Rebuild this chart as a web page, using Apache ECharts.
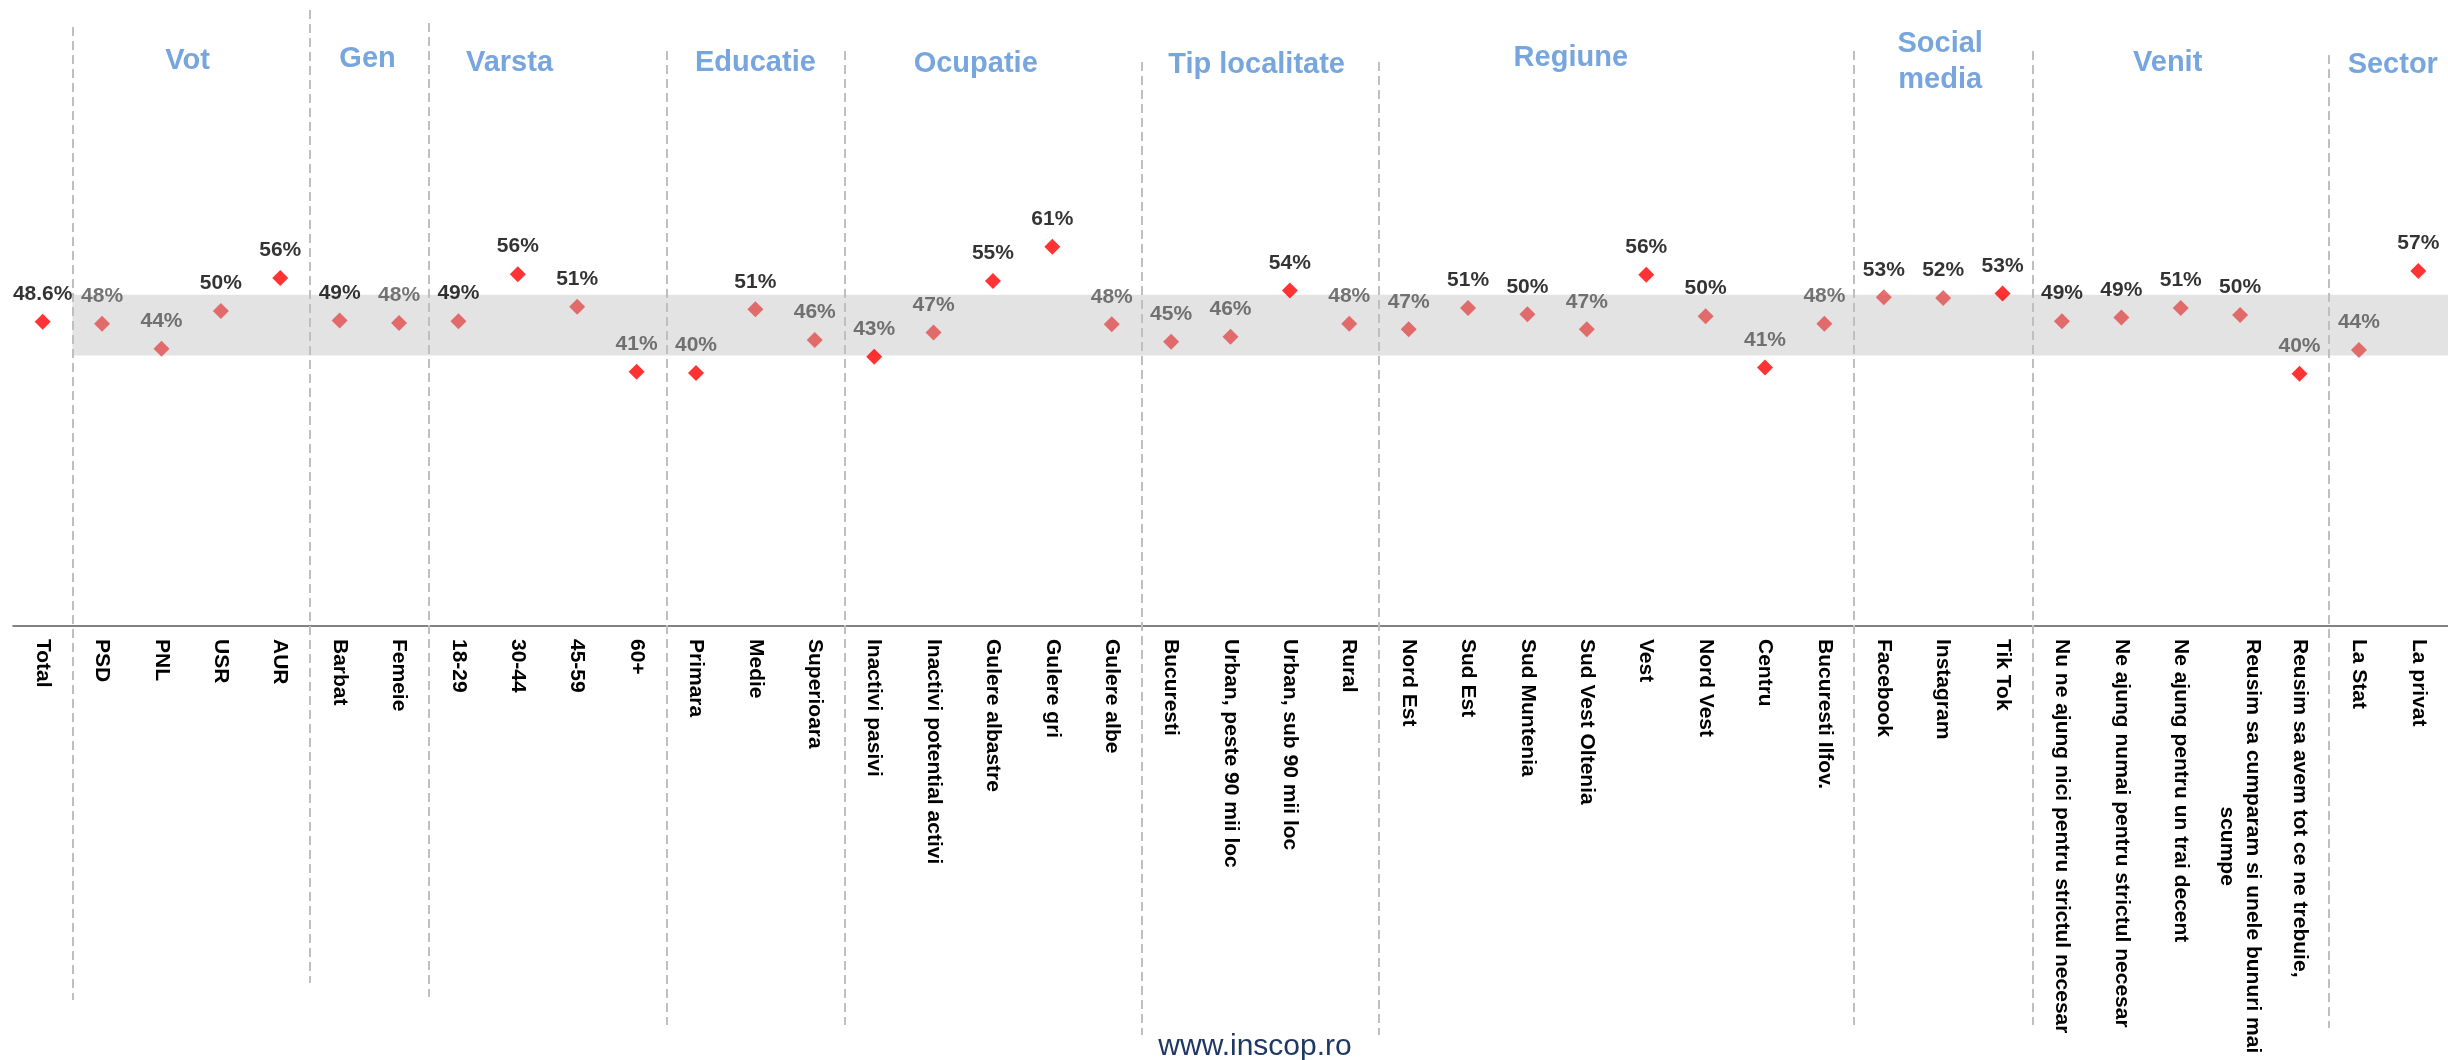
<!DOCTYPE html>
<html>
<head>
<meta charset="utf-8">
<script src="https://cdn.jsdelivr.net/npm/echarts@6/dist/echarts.min.js"></script>
<style>
  html, body { margin: 0; padding: 0; background: #fff; }
  #chart { width: 2448px; height: 1060px; }
</style>
</head>
<body>
<div id="chart"></div>
<script>
// date
const groupNames = ['Vot', 'Gen', 'Varsta', 'Educatie', 'Ocupatie', 'Tip localitate', 'Regiune', 'Social\nmedia', 'Venit', 'Sector']
const groupSizes = [4, 2, 4, 3, 5, 4, 8, 3, 5, 2]
const categories = [
  'Total',
  'PSD', 'PNL', 'USR', 'AUR',
  'Barbat', 'Femeie',
  '18-29', '30-44', '45-59', '60+',
  'Primara', 'Medie', 'Superioara',
  'Inactivi pasivi', 'Inactivi potential activi', 'Gulere albastre', 'Gulere gri', 'Gulere albe',
  'Bucuresti', 'Urban, peste 90 mii loc', 'Urban, sub 90 mii loc', 'Rural',
  'Nord Est', 'Sud Est', 'Sud Muntenia', 'Sud Vest Oltenia', 'Vest', 'Nord Vest', 'Centru', 'Bucuresti Ilfov.',
  'Facebook', 'Instagram', 'Tik Tok',
  'Nu ne ajung nici pentru strictul necesar', 'Ne ajung numai pentru strictul necesar', 'Ne ajung pentru un trai decent',
  'Reusim sa cumparam si unele bunuri mai scumpe', 'Reusim sa avem tot ce ne trebuie,',
  'La Stat', 'La privat'
]
const values = [
  48.6,
  48.3, 44.3, 50.3, 55.6,
  48.8, 48.4,
  48.7, 56.2, 51.0, 40.6,
  40.4, 50.6, 45.7,
  43.0, 46.9, 55.1, 60.6, 48.2,
  45.4, 46.2, 53.6, 48.3,
  47.4, 50.8, 49.8, 47.4, 56.1, 49.5, 41.3, 48.3,
  52.5, 52.4, 53.1,
  48.7, 49.3, 50.8, 49.7, 40.3,
  44.1, 56.7
]
const bandRange = [43.2, 52.9]

// asezare (pixeli / unitati de categorie)
const titleShift = [-0.06, -0.03, -0.64, 0, -0.29, -0.06, -0.77, -0.05, -0.22, 0.07]
const titleY = [61, 59, 63, 63, 64, 65, 58, 62, 63, 65]
const sepTop = [27, 10, 23, 51, 51, 62, 62, 51, 51, 55]
const sepBottom = [1000, 983, 997, 1025, 1025, 1035, 1035, 1025, 1025, 1028]

const FONT = '"Liberation Sans", Arial, sans-serif'
const total = values[0]
const n = categories.length

// limitele grupurilor
const bounds = []
let acc = 1
groupSizes.forEach(s => { bounds.push(acc); acc += s })

function wrapLabel (s) {
  if (s.length <= 42) return s
  const cut = s.lastIndexOf(' ', 40)
  return '{l|' + s.slice(0, cut) + '}\n{c|' + s.slice(cut + 1) + '}'
}

const pointData = values.map((v, i) => {
  const outside = i === 0 || v < bandRange[0] || v > bandRange[1]
  return {
    value: v,
    itemStyle: { color: outside ? '#ff0000' : '#e04c4c' },
    label: { color: v >= total ? '#000000' : '#525252' }
  }
})

const labelRich = {
  l: { fontSize: 21, fontWeight: 'bold', color: '#000', fontFamily: FONT, lineHeight: 26 },
  c: { fontSize: 21, fontWeight: 'bold', color: '#000', fontFamily: FONT, lineHeight: 26, align: 'center' }
}

const myChart = echarts.init(document.getElementById('chart'))
myChart.setOption({
  animation: false,
  backgroundColor: '#ffffff',
  grid: [
    { left: 13, right: -3, top: -2, bottom: 434 },
    { left: 13, right: -3, top: 0, bottom: 0 }
  ],
  xAxis: [
    {
      type: 'category',
      gridIndex: 0,
      data: categories,
      axisLine: { lineStyle: { color: '#595959', width: 1.5 } },
      axisTick: { interval: 0, length: 6, lineStyle: { color: '#595959', width: 1.5 } },
      axisLabel: {
        interval: 0,
        rotate: -90,
        margin: 13,
        fontSize: 21,
        fontWeight: 'bold',
        color: '#000',
        fontFamily: FONT,
        formatter: wrapLabel,
        rich: labelRich
      }
    },
    { type: 'value', gridIndex: 0, min: 0, max: n, show: false },
    { type: 'value', gridIndex: 1, min: 0, max: n, show: false }
  ],
  yAxis: [
    { type: 'value', gridIndex: 0, min: 0, max: 100, show: false, splitLine: { show: false } },
    { type: 'value', gridIndex: 1, min: 0, max: 1060, inverse: true, show: false, splitLine: { show: false } }
  ],
  series: [
    {
      // banda gri
      type: 'line',
      xAxisIndex: 1,
      yAxisIndex: 0,
      data: [],
      z: 1,
      markArea: {
        silent: true,
        itemStyle: { color: '#e3e3e3' },
        data: [[{ coord: [1, bandRange[0]] }, { coord: [n, bandRange[1]] }]]
      }
    },
    {
      // separatoare
      type: 'line',
      xAxisIndex: 2,
      yAxisIndex: 1,
      data: [],
      z: 2,
      markLine: {
        silent: true,
        symbol: ['none', 'none'],
        label: { show: false },
        lineStyle: { type: [9, 5], color: '#bfbfbf', width: 2 },
        data: bounds.map((b, i) => [{ coord: [b, sepTop[i]] }, { coord: [b, sepBottom[i]] }])
      }
    },
    {
      // titluri grupuri
      type: 'scatter',
      xAxisIndex: 2,
      yAxisIndex: 1,
      symbolSize: 1,
      itemStyle: { color: 'rgba(0,0,0,0)' },
      z: 4,
      label: {
        show: true,
        position: 'inside',
        formatter: '{b}',
        fontSize: 29,
        fontWeight: 'bold',
        lineHeight: 36,
        color: '#558ed5',
        fontFamily: FONT
      },
      data: groupNames.map((g, i) => ({
        name: g,
        value: [bounds[i] + groupSizes[i] / 2 + titleShift[i], titleY[i]]
      }))
    },
    {
      type: 'scatter',
      xAxisIndex: 0,
      yAxisIndex: 0,
      symbol: 'diamond',
      symbolSize: 16,
      z: 5,
      label: {
        show: true,
        position: 'top',
        distance: 9,
        fontSize: 21,
        fontWeight: 'bold',
        fontFamily: FONT,
        formatter: p => (p.dataIndex === 0 ? p.value.toFixed(1) : Math.round(p.value)) + '%'
      },
      data: pointData
    }
  ],
  graphic: [
    {
      type: 'text',
      x: 1255,
      y: 1047,
      style: {
        text: 'www.inscop.ro',
        fontSize: 30,
        fontFamily: FONT,
        fill: '#1f3864',
        align: 'center',
        verticalAlign: 'middle'
      }
    }
  ]
})
</script>
</body>
</html>
